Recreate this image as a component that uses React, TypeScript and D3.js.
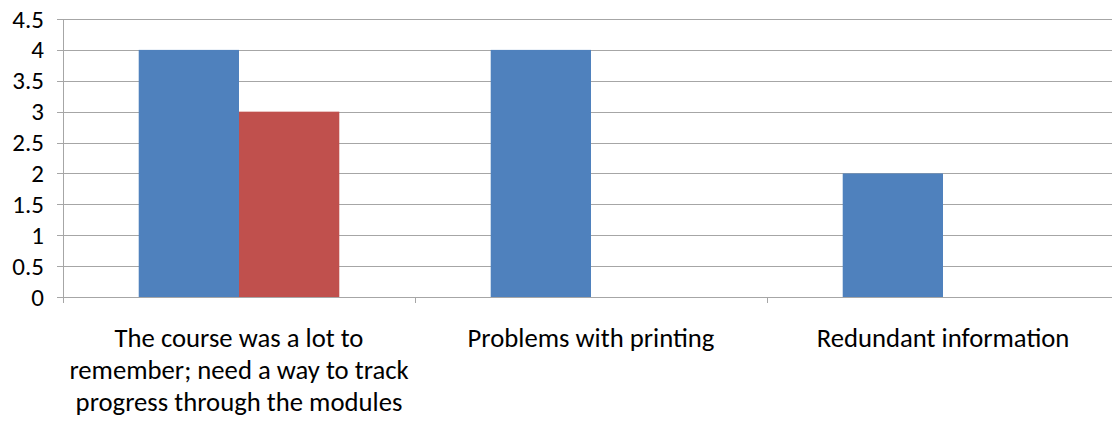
import React from "react";
import * as d3 from "d3";

const categories = [
  ["The course was a lot to", "remember; need a way to track", "progress through the modules"],
  ["Problems with printing"],
  ["Redundant information"],
];
const series1 = [4, 4, 2];
const series2 = [3, 0, 0];
const yTicks = [0, 0.5, 1, 1.5, 2, 2.5, 3, 3.5, 4, 4.5];

const W = 1112, H = 423;
const left = 63, right = 1119, top = 19, bottom = 297;

export default function App() {
  const x = d3.scaleBand<number>().domain([0, 1, 2]).range([left, right]).paddingInner(0).paddingOuter(0);
  const bw = x.bandwidth();
  const inner = d3.scaleBand<number>().domain([0, 1]).range([bw * 0.2151, bw * (1 - 0.2151)]);
  const y = d3.scaleLinear().domain([0, 4.5]).range([bottom, top]);
  const font = "Carlito, Calibri, 'Open Sans', sans-serif";
  return (
    <svg width={W} height={H} style={{ position: "absolute", left: 0, top: 0, background: "#fff" }}>
      {yTicks.map((t) => (
        <g key={t}>
          <line x1={57} x2={W} y1={Math.round(y(t)) + 0.5} y2={Math.round(y(t)) + 0.5} stroke="#a6a6a6" strokeWidth={1} />
          <text x={44} y={y(t)} dy="0.34em" textAnchor="end" fontFamily={font} fontSize={25} fill="#000">{t}</text>
        </g>
      ))}
      {[0, 1, 2].map((i) => {
        const x0 = x(i)!;
        return (
          <g key={i}>
            <rect x={x0 + inner(0)!} y={y(series1[i])} width={inner.bandwidth()} height={bottom - y(series1[i])} fill="#4F81BD" />
            {series2[i] > 0 && (
              <rect x={x0 + inner(1)!} y={y(series2[i])} width={inner.bandwidth()} height={bottom - y(series2[i])} fill="#C0504D" />
            )}
            {categories[i].map((line, j) => (
              <text key={j} x={x0 + bw / 2} y={347 + j * 32} textAnchor="middle" fontFamily={font} fontSize={26.7} fill="#000">{line}</text>
            ))}
          </g>
        );
      })}
      <line x1={left + 0.5} x2={left + 0.5} y1={top} y2={bottom + 6} stroke="#a6a6a6" />
      <line x1={left} x2={W} y1={bottom + 0.5} y2={bottom + 0.5} stroke="#a6a6a6" />
      {[1, 2].map((i) => (
        <line key={i} x1={Math.round(x(i)!) + 0.5} x2={Math.round(x(i)!) + 0.5} y1={bottom} y2={bottom + 6} stroke="#a6a6a6" />
      ))}
    </svg>
  );
}
